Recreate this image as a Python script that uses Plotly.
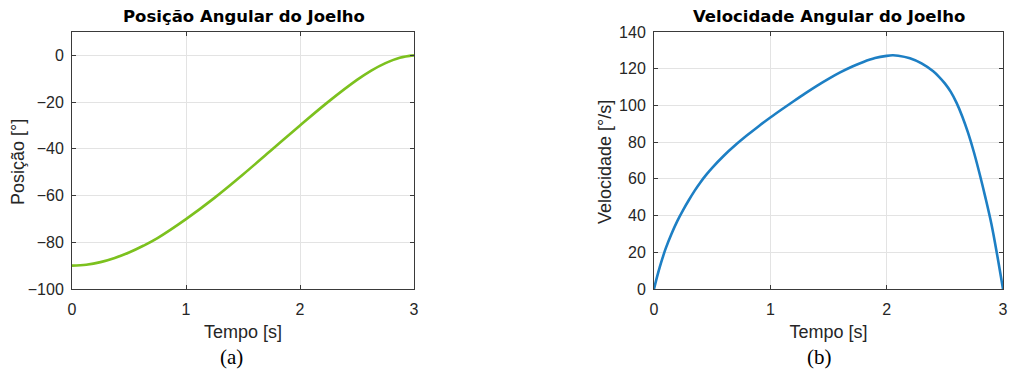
import plotly.graph_objects as go

# ---- data ----
t_pos = [0, 0.125, 0.25, 0.375, 0.5, 0.625, 0.75, 1.0, 1.25, 1.5, 1.75, 2.0, 2.25, 2.5,
         2.625, 2.75, 2.875, 3.0]
pos = [-90, -89.6, -88.5, -86.7, -84.4, -81.5, -78.2, -70.1, -61.0, -51.0, -40.5, -30.0,
       -19.8, -10.5, -6.5, -3.3, -1.0, 0]

t_vel = [0, 0.025, 0.05, 0.075, 0.1, 0.15, 0.2, 0.25, 0.3, 0.35, 0.4, 0.45, 0.5, 0.6, 0.7,
         0.8, 0.9, 1.0, 1.1, 1.2, 1.3, 1.4, 1.5, 1.6, 1.7, 1.8, 1.9, 2.0, 2.05, 2.1, 2.2, 2.3,
         2.4, 2.45, 2.5, 2.55, 2.6, 2.65, 2.7, 2.75, 2.8, 2.85, 2.9, 2.95, 3.0]
vel = [0, 6.3, 12.0, 17.2, 22.0, 30.0, 37.0, 43.0, 48.5, 53.6, 58.2, 62.3, 66.0, 72.6, 78.4,
       83.7, 88.7, 93.4, 97.9, 102.3, 106.6, 110.7, 114.5, 118.0, 121.1, 123.7, 125.8,
       127.0, 127.3, 127.1, 125.7, 122.9, 118.6, 115.6, 112.0, 107.5, 101.5, 94.0, 85.0,
       74.5, 62.5, 49.5, 35.5, 18.5, 0]

x_ticks = [0, 1, 2, 3]
pos_ticks = [-100, -80, -60, -40, -20, 0]
vel_ticks = [0, 20, 40, 60, 80, 100, 120, 140]

titles = ["Posição Angular do Joelho", "Velocidade Angular do Joelho"]
x_label = "Tempo [s]"
y_labels = ["Posição [°]", "Velocidade [°/s]"]
panel_labels = ["(a)", "(b)"]

# ---- layout geometry ----
W, H = 1009, 370
ML, MR, MT, MB = 72, 6, 32, 81
PW = W - ML - MR
PH = H - MT - MB
dom1 = [0, (414 - ML) / PW]
dom2 = [(654 - ML) / PW, 1]

TXT = "#262626"
AX = "#3a3a3a"
GRID = "#e3e3e3"
FONT = "Liberation Sans, Arial, sans-serif"

fig = go.Figure()
fig.add_trace(go.Scatter(x=t_pos, y=pos, mode="lines", xaxis="x", yaxis="y",
                         line=dict(color="#7CC11E", width=2.6, shape="spline", smoothing=1.0),
                         showlegend=False, hoverinfo="skip"))
fig.add_trace(go.Scatter(x=t_vel, y=vel, mode="lines", xaxis="x2", yaxis="y2",
                         line=dict(color="#1D7FC4", width=2.6, shape="spline", smoothing=1.0),
                         showlegend=False, hoverinfo="skip"))

common = dict(showline=True, linecolor=AX, linewidth=1, mirror="ticks",
              ticks="inside", ticklen=4, tickcolor=AX, tickwidth=1,
              showgrid=True, gridcolor=GRID, gridwidth=1, zeroline=False,
              tickfont=dict(family=FONT, size=16, color=TXT), automargin=False)

xcommon = dict(common, range=[0, 3], tickvals=x_ticks, ticklabelstandoff=6,
               title=dict(text=x_label, font=dict(family=FONT, size=18, color=TXT), standoff=8))

fig.update_layout(
    width=W, height=H,
    margin=dict(l=ML, r=MR, t=MT, b=MB),
    paper_bgcolor="white", plot_bgcolor="white",
    xaxis=dict(xcommon, domain=dom1, anchor="y"),
    yaxis=dict(common, range=[-100, 10], tickvals=pos_ticks, anchor="x", ticklabelstandoff=4),
    xaxis2=dict(xcommon, domain=dom2, anchor="y2"),
    yaxis2=dict(common, range=[0, 140], tickvals=vel_ticks, anchor="x2", ticklabelstandoff=4),
)

def px_to_paper_y(py):
    return (H - MB - py) / PH

def px_to_paper_x(px):
    return (px - ML) / PW

anns = []
for i, (cx, tx, yx) in enumerate([(243.5, 231, 18), (828.5, 819, 605)]):
    anns.append(dict(text="<b>%s</b>" % titles[i], x=px_to_paper_x(cx), y=px_to_paper_y(17),
                     xref="paper", yref="paper", showarrow=False, xanchor="center", yanchor="middle",
                     font=dict(family="DejaVu Sans, sans-serif", size=16.5, color="black")))
    anns.append(dict(text=panel_labels[i], x=px_to_paper_x(tx), y=px_to_paper_y(357),
                     xref="paper", yref="paper", showarrow=False, xanchor="center", yanchor="middle",
                     font=dict(family="Liberation Serif, Times New Roman, serif", size=21, color="black")))
    anns.append(dict(text=y_labels[i], x=px_to_paper_x(yx), y=px_to_paper_y(162), textangle=-90,
                     xref="paper", yref="paper", showarrow=False, xanchor="center", yanchor="middle",
                     font=dict(family=FONT, size=18, color=TXT)))
fig.update_layout(annotations=anns)

fig.write_html("out.html", config={"displayModeBar": False},
               post_script="document.body.style.margin='0';document.body.style.overflow='hidden';")
